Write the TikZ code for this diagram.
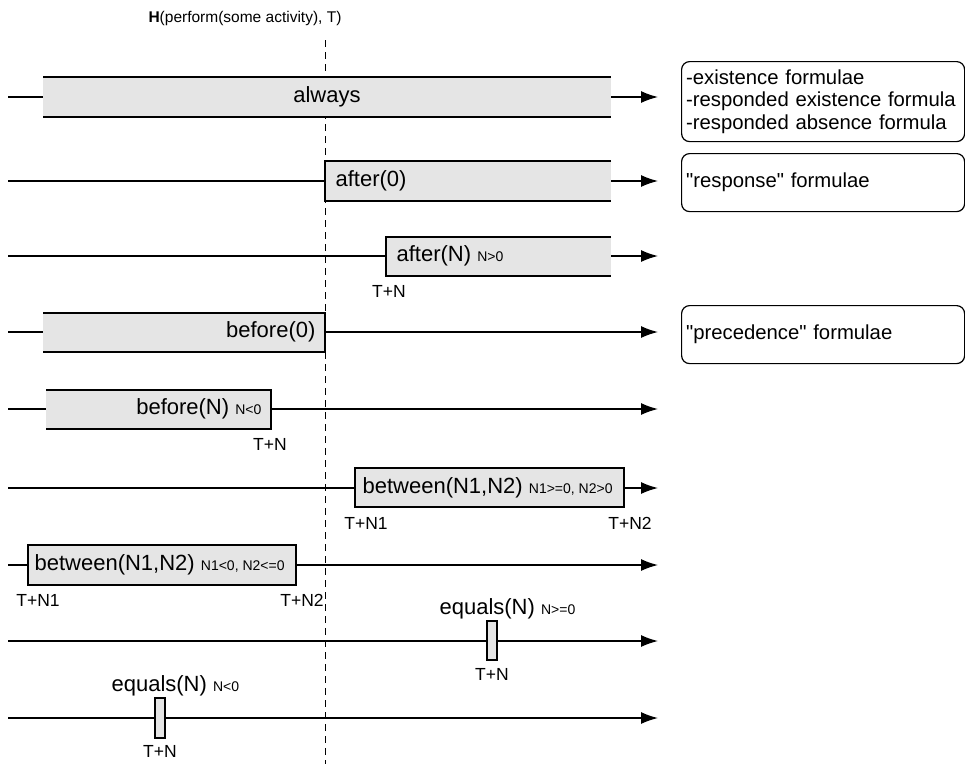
\documentclass[tikz,border=0pt]{standalone}
\usepackage{fontspec}
\setmainfont{Liberation Sans}
\usetikzlibrary{arrows.meta}
\newcommand{\cnd}[1]{{\fontsize{14}{16}\selectfont #1}}

\begin{document}
\begin{tikzpicture}[
        x=1pt, y=-1pt, line width=1.2pt,
        axis/.style = {draw, line width=1.4pt, -{Latex[length=17pt, width=12pt]}}, % Ось времени
        now/.style = {draw, line width=1pt, dash pattern=on 7pt off 5pt},
        span/.style = {fill=black!10},
        lbl/.style = {inner sep=0pt, font=\fontsize{22}{26}\selectfont},
        tick/.style = {inner sep=0pt, font=\fontsize{17.5}{20}\selectfont},
        note/.style = {draw, rounded corners=8pt, anchor=north west, align=left, text width=274pt,
                inner xsep=4.5pt, inner ysep=6pt, font=\fontsize{20.3}{22.5}\selectfont}, % Пояснения справа
    ]
    \useasboundingbox (0,0) rectangle (965,764);

    \node[inner sep=0pt, font=\fontsize{15.5}{18}\selectfont] (title) at (245,18) {\textbf{H}(perform(some activity), T)};
    \coordinate (dtop) at (325,40);
    \coordinate (dbot) at (325,764);
    \draw[now] (dtop) -- (dbot);

    \foreach \r/\y in {1/97, 2/181, 3/256, 4/332, 5/409, 6/488, 7/565, 8/641, 9/718} {
        \coordinate (s\r) at (8,\y);
        \coordinate (e\r) at (658,\y);
        \draw[axis] (s\r) -- (e\r);
    }

    % always
    \fill[span] (43,77) rectangle (611,117);
    \draw (43,77) -- (611,77) (43,117) -- (611,117);
    \node[lbl] (always) at (327,97) {always};

    % after(0)
    \fill[span] (325,161) rectangle (611,201);
    \draw (611,161) -- (325,161) -- (325,201) -- (611,201);
    \node[lbl, anchor=west] (after0) at (335,181) {after(0)};

    % after(N)
    \fill[span] (386,237) rectangle (611,276);
    \draw (611,237) -- (386,237) -- (386,276) -- (611,276);
    \node[lbl, anchor=west] (afterN) at (396,256) {after(N) \cnd{N>0}};
    \node[tick] (tn3) at (389,291) {T+N};

    % before(0)
    \fill[span] (43,313) rectangle (325,352);
    \draw (43,313) -- (325,313) -- (325,352) -- (43,352);
    \node[lbl, anchor=east] (before0) at (316,332) {before(0)};

    % before(N)
    \fill[span] (46,390) rectangle (271,429);
    \draw (46,390) -- (271,390) -- (271,429) -- (46,429);
    \node[lbl, anchor=east] (beforeN) at (262,409) {before(N) \cnd{N<0}};
    \node[tick] (tn5) at (270,444) {T+N};

    % between, N1>=0
    \filldraw[span] (355,468) rectangle (624,507);
    \node[lbl, anchor=west] (betw1) at (362,488) {between(N1,N2) \cnd{N1>=0, N2>0}};
    \node[tick] (tn6a) at (366,523) {T+N1};
    \node[tick] (tn6b) at (630,523) {T+N2};

    % between, N1<0
    \filldraw[span] (28,545) rectangle (296,585);
    \node[lbl, anchor=west] (betw2) at (34,565) {between(N1,N2) \cnd{N1<0, N2<=0}};
    \node[tick] (tn7a) at (38,600) {T+N1};
    \node[tick] (tn7b) at (302,600) {T+N2};

    % equals
    \filldraw[span] (487,621) rectangle (497,660);
    \node[lbl, anchor=west] (eq8) at (439,609) {equals(N) \cnd{N>=0}};
    \node[tick] (tn8) at (492,674) {T+N};

    \filldraw[span] (155,698) rectangle (165,738);
    \node[lbl, anchor=west] (eq9) at (111,686) {equals(N) \cnd{N<0}};
    \node[tick] (tn9) at (160,751) {T+N};

    % notes
    \node[note, minimum height=80pt] (exist) at (681,61) {-existence formulae\\-responded existence formula\\-responded absence formula};
    \node[note, minimum height=58pt] (resp) at (681,153) {\textquotedbl response\textquotedbl{} formulae};
    \node[note, minimum height=58pt] (prec) at (681,305) {\textquotedbl precedence\textquotedbl{} formulae};
\end{tikzpicture}
\end{document}
